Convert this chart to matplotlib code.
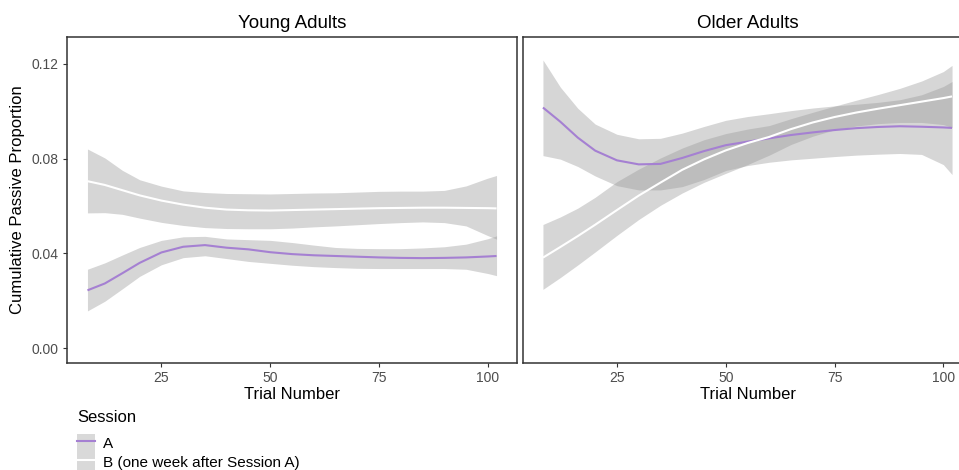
import matplotlib
matplotlib.use("Agg")
import matplotlib.pyplot as plt
from matplotlib.patches import Patch
from matplotlib.lines import Line2D

plt.rcParams['font.family'] = ['Liberation Sans', 'DejaVu Sans']

trial = [8, 12, 16, 20, 25, 30, 35, 40, 45, 50, 55, 60, 65, 70, 75, 80, 85, 90, 95, 100, 102]

# Young adults, session A
young_a = [.0244, .0273, .0316, .0360, .0404, .0428, .0435, .0424, .0417, .0405, .0397,
           .0392, .0389, .0386, .0383, .0381, .0380, .0381, .0383, .0387, .0389]
young_a_hi = [.0333, .0360, .0393, .0425, .0455, .0470, .0472, .0461, .0458, .0455, .0446,
              .0435, .0425, .0421, .0420, .0420, .0423, .0428, .0439, .0462, .0474]
young_a_lo = [.0157, .0198, .0250, .0303, .0352, .0382, .0390, .0378, .0366, .0358, .0350,
              .0344, .0340, .0337, .0336, .0336, .0336, .0336, .0333, .0315, .0306]

# Young adults, session B
young_b = [.0705, .0689, .0667, .0645, .0623, .0606, .0593, .0585, .0582, .0581, .0583,
           .0585, .0587, .0589, .0591, .0592, .0593, .0593, .0592, .0591, .0590]
young_b_hi = [.0841, .0803, .0751, .0711, .0684, .0664, .0657, .0653, .0652, .0651, .0653,
              .0655, .0656, .0659, .0662, .0663, .0663, .0666, .0685, .0718, .0729]
young_b_lo = [.0571, .0572, .0565, .0549, .0531, .0518, .0509, .0505, .0504, .0504, .0507,
              .0512, .0516, .0521, .0526, .0530, .0533, .0530, .0516, .0475, .0460]

# Older adults, session A
older_a = [.1016, .0956, .0889, .0834, .0793, .0776, .0778, .0803, .0832, .0857, .0872,
           .0886, .0900, .0911, .0921, .0929, .0934, .0937, .0935, .0932, .0930]
older_a_hi = [.1217, .1102, .1013, .0946, .0903, .0884, .0886, .0908, .0936, .0962, .0978,
              .0990, .1003, .1014, .1023, .1030, .1038, .1049, .1070, .1105, .1126]
older_a_lo = [.0813, .0798, .0767, .0727, .0686, .0668, .0668, .0682, .0712, .0750, .0771,
              .0785, .0795, .0802, .0809, .0815, .0819, .0822, .0818, .0775, .0733]

# Older adults, session B
older_b = [.0382, .0427, .0473, .0521, .0583, .0644, .0699, .0753, .0797, .0835, .0866,
           .0892, .0925, .0953, .0976, .0995, .1011, .1026, .1041, .1056, .1063]
older_b_hi = [.0522, .0554, .0591, .0637, .0703, .0756, .0803, .0845, .0880, .0906, .0925,
              .0940, .0969, .0996, .1022, .1047, .1071, .1097, .1128, .1168, .1194]
older_b_lo = [.0248, .0298, .0351, .0406, .0476, .0543, .0603, .0655, .0700, .0738, .0775,
              .0815, .0860, .0895, .0922, .0938, .0948, .0953, .0953, .0944, .0932]

panels = ['Young Adults', 'Older Adults']
session_labels = ['A', 'B (one week after Session A)']
x_ticks = [25, 50, 75, 100]
y_ticks = [0.00, 0.04, 0.08, 0.12]

purple = '#a580d2'
band = '#999999'
border = '#333333'

fig = plt.figure(figsize=(9.59, 4.70), dpi=100)
ax1 = fig.add_axes([67 / 959, 1 - 363 / 470, 450 / 959, 326 / 470])
ax2 = fig.add_axes([522.5 / 959, 1 - 363 / 470, 450 / 959, 326 / 470])

data = [
    (ax1, young_a, young_a_lo, young_a_hi, young_b, young_b_lo, young_b_hi),
    (ax2, older_a, older_a_lo, older_a_hi, older_b, older_b_lo, older_b_hi),
]

for (ax, a, a_lo, a_hi, b, b_lo, b_hi), name in zip(data, panels):
    ax.fill_between(trial, a_lo, a_hi, color=band, alpha=0.4, linewidth=0)
    ax.fill_between(trial, b_lo, b_hi, color=band, alpha=0.4, linewidth=0)
    ax.plot(trial, a, color=purple, lw=1.5, solid_capstyle='butt')
    ax.plot(trial, b, color='white', lw=1.5, solid_capstyle='butt')

    ax.set_xlim(3.3, 106.7)
    ax.set_ylim(-0.0063, 0.1314)
    ax.set_xticks(x_ticks)
    ax.set_xticklabels([str(t) for t in x_ticks])
    ax.set_yticks(y_ticks)
    ax.set_yticklabels(['%.2f' % t for t in y_ticks])
    ax.tick_params(length=3, width=0.8, color='#333333', labelcolor='#4d4d4d',
                   labelsize=10, pad=3)
    for sp in ax.spines.values():
        sp.set_color(border)
        sp.set_linewidth(1.1)
    ax.set_title(name, fontsize=13.5, pad=6.5)
    ax.set_xlabel('Trial Number', fontsize=12, labelpad=1.5)

ax1.set_ylabel('Cumulative Passive Proportion', fontsize=12, labelpad=5)
ax2.tick_params(left=False, labelleft=False)

# legend: title placed as its own text, keys below it
fig.text(77 / 959, 1 - 418 / 470, 'Session', fontsize=12, ha='left', va='center')
handles = [
    (Patch(facecolor='#d9d9d9', edgecolor='none'), Line2D([], [], color=purple, lw=1.5)),
    (Patch(facecolor='#d9d9d9', edgecolor='none'), Line2D([], [], color='white', lw=1.5)),
]
fig.legend(handles, session_labels, loc='upper left',
           bbox_to_anchor=(77 / 959, 1 - 433.5 / 470), frameon=False,
           fontsize=11, handlelength=1.18, handleheight=1.54, handletextpad=0.53,
           labelspacing=0.0, borderpad=0, borderaxespad=0)

fig.savefig('out.png', dpi=100)
